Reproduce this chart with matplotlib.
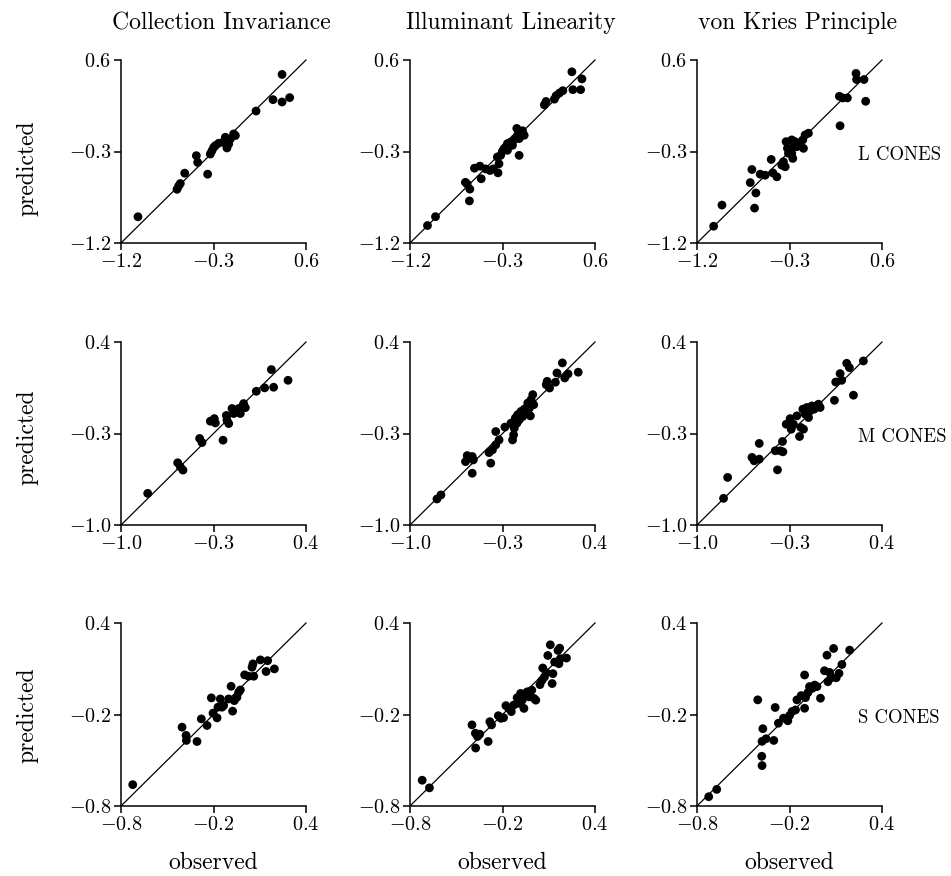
import matplotlib
matplotlib.use("Agg")
import matplotlib.pyplot as plt

plt.rcParams['font.family'] = ['cmr10', 'DejaVu Serif']
plt.rcParams['mathtext.fontset'] = 'cm'
plt.rcParams['axes.unicode_minus'] = False

col_titles = ["Collection Invariance", "Illuminant Linearity", "von Kries Principle"]
row_labels = ["L CONES", "M CONES", "S CONES"]
row_ranges = [(-1.2, 0.6), (-1.0, 0.4), (-0.8, 0.4)]
row_ticks = [["-1.2", "-0.3", "0.6"], ["-1.0", "-0.3", "0.4"], ["-0.8", "-0.2", "0.4"]]

# L cones
ci_L_obs = [-1.035, -0.655, -0.639, -0.623, -0.580, -0.467, -0.454, -0.357, -0.331, -0.315,
            -0.298, -0.282, -0.250, -0.207, -0.175, -0.169, -0.152, -0.136, -0.104, -0.087,
            -0.185, 0.114, 0.279, 0.367, 0.367, 0.441]
ci_L_pred = [-0.942, -0.672, -0.639, -0.615, -0.513, -0.341, -0.407, -0.523, -0.325, -0.292,
             -0.259, -0.242, -0.219, -0.209, -0.193, -0.265, -0.226, -0.176, -0.127, -0.143,
             -0.160, 0.098, 0.210, 0.458, 0.187, 0.230]

il_L_obs = [-1.030, -0.952, -0.661, -0.644, -0.618, -0.622, -0.573, -0.520, -0.507, -0.465,
            -0.422, -0.390, -0.344, -0.334, -0.318, -0.301, -0.285, -0.269, -0.252, -0.236,
            -0.220, -0.203, -0.193, -0.180, -0.161, -0.154, -0.138, -0.138, -0.122, -0.105,
            -0.089, -0.252, -0.350, 0.107, 0.124, 0.205, 0.222, 0.254, 0.287, 0.375,
            0.385, 0.460, 0.473]
il_L_pred = [-1.028, -0.941, -0.603, -0.620, -0.670, -0.786, -0.464, -0.444, -0.568, -0.471,
             -0.487, -0.471, -0.510, -0.421, -0.338, -0.298, -0.272, -0.255, -0.222, -0.239,
             -0.206, -0.239, -0.190, -0.173, -0.073, -0.140, -0.338, -0.173, -0.123, -0.096,
             -0.140, -0.288, -0.354, 0.159, 0.192, 0.215, 0.249, 0.275, 0.298, 0.484,
             0.308, 0.308, 0.414]

vk_L_obs = [-1.038, -0.957, -0.682, -0.666, -0.627, -0.640, -0.585, -0.537, -0.478, -0.462,
            -0.423, -0.375, -0.359, -0.342, -0.333, -0.320, -0.310, -0.294, -0.278, -0.268,
            -0.261, -0.245, -0.229, -0.213, -0.164, -0.171, -0.148, -0.116, -0.278, 0.185,
            0.217, 0.263, 0.192, 0.347, 0.353, 0.425, 0.441]
vk_L_pred = [-1.035, -0.827, -0.606, -0.477, -0.708, -0.857, -0.523, -0.533, -0.378, -0.510,
             -0.549, -0.434, -0.401, -0.450, -0.203, -0.269, -0.318, -0.285, -0.186, -0.368,
             -0.252, -0.203, -0.252, -0.219, -0.269, -0.186, -0.137, -0.120, -0.318, 0.243,
             0.227, 0.227, -0.047, 0.468, 0.408, 0.408, 0.194]

# M cones
ci_M_obs = [-0.798, -0.571, -0.551, -0.531, -0.405, -0.387, -0.324, -0.294, -0.286, -0.228,
            -0.203, -0.198, -0.185, -0.160, -0.147, -0.135, -0.122, -0.109, -0.097, -0.084,
            -0.072, -0.059, 0.024, 0.087, 0.138, 0.155, 0.264]
ci_M_pred = [-0.758, -0.524, -0.555, -0.580, -0.338, -0.369, -0.206, -0.186, -0.219, -0.351,
             -0.162, -0.198, -0.224, -0.109, -0.147, -0.122, -0.135, -0.109, -0.147, -0.096,
             -0.071, -0.102, 0.023, 0.049, 0.189, 0.054, 0.107]

il_M_obs = [-0.796, -0.766, -0.580, -0.567, -0.529, -0.521, -0.529, -0.402, -0.389, -0.376,
            -0.351, -0.351, -0.326, -0.282, -0.236, -0.224, -0.216, -0.211, -0.203, -0.191,
            -0.186, -0.173, -0.160, -0.147, -0.135, -0.122, -0.109, -0.097, -0.084, -0.071,
            -0.089, -0.064, 0.031, 0.038, 0.056, 0.100, 0.112, 0.153, 0.171, 0.196, 0.273]
il_M_pred = [-0.801, -0.770, -0.515, -0.469, -0.476, -0.502, -0.604, -0.446, -0.527, -0.425,
             -0.387, -0.285, -0.349, -0.251, -0.221, -0.349, -0.310, -0.259, -0.182, -0.221,
             -0.157, -0.195, -0.131, -0.170, -0.113, -0.144, -0.067, -0.106, -0.041, -0.003,
             -0.165, -0.080, 0.073, 0.099, 0.048, 0.092, 0.163, 0.240, 0.125, 0.156, 0.169]

vk_M_obs = [-0.799, -0.768, -0.584, -0.567, -0.529, -0.529, -0.408, -0.391, -0.370, -0.350,
            -0.353, -0.325, -0.295, -0.287, -0.270, -0.244, -0.224, -0.214, -0.199, -0.194,
            -0.181, -0.169, -0.156, -0.144, -0.131, -0.114, -0.093, -0.081, -0.068, 0.040,
            0.050, 0.083, 0.095, 0.133, 0.153, 0.184, 0.259]
vk_M_pred = [-0.796, -0.636, -0.483, -0.509, -0.496, -0.376, -0.432, -0.578, -0.432, -0.440,
             -0.361, -0.229, -0.186, -0.267, -0.229, -0.165, -0.323, -0.254, -0.114, -0.267,
             -0.152, -0.101, -0.178, -0.127, -0.089, -0.114, -0.089, -0.076, -0.101, -0.046,
             0.094, 0.158, 0.107, 0.237, 0.204, -0.007, 0.255]

# S cones
ci_S_obs = [-0.724, -0.404, -0.378, -0.376, -0.307, -0.279, -0.242, -0.214, -0.203, -0.177,
            -0.171, -0.156, -0.145, -0.134, -0.102, -0.086, -0.076, -0.065, -0.048, -0.037,
            -0.026, 0.002, 0.028, 0.050, 0.061, 0.056, 0.104, 0.141, 0.151, 0.195]
ci_S_pred = [-0.660, -0.283, -0.337, -0.370, -0.377, -0.229, -0.272, -0.091, -0.191, -0.222,
             -0.152, -0.098, -0.152, -0.141, -0.098, -0.015, -0.178, -0.109, -0.087, -0.054,
             -0.039, 0.060, 0.051, 0.110, 0.051, 0.132, 0.158, 0.082, 0.153, 0.099]

il_S_obs = [-0.721, -0.674, -0.398, -0.376, -0.362, -0.374, -0.348, -0.293, -0.282, -0.271,
            -0.227, -0.210, -0.193, -0.178, -0.160, -0.143, -0.127, -0.105, -0.094, -0.083,
            -0.072, -0.061, -0.050, -0.039, -0.028, -0.010, 0.005, 0.016, 0.043, 0.057,
            0.061, 0.072, 0.083, 0.094, 0.110, 0.127, 0.122, 0.138, 0.160, 0.166, 0.175,
            0.171, 0.215]
il_S_pred = [-0.631, -0.681, -0.268, -0.323, -0.344, -0.420, -0.329, -0.377, -0.247, -0.268,
             -0.208, -0.225, -0.221, -0.142, -0.160, -0.181, -0.138, -0.090, -0.127, -0.062,
             -0.106, -0.160, -0.062, -0.051, -0.084, -0.040, -0.095, -0.106, -0.004, 0.025,
             0.105, 0.046, 0.075, 0.187, 0.257, 0.068, 0.003, 0.144, 0.220, 0.133, 0.166,
             0.235, 0.170]

vk_S_obs = [-0.724, -0.672, -0.406, -0.380, -0.378, -0.378, -0.373, -0.352, -0.302, -0.293,
            -0.272, -0.239, -0.211, -0.200, -0.183, -0.161, -0.152, -0.124, -0.102, -0.096,
            -0.102, -0.081, -0.070, -0.052, -0.037, -0.022, 0.001, 0.027, 0.049, 0.043,
            0.060, 0.071, 0.086, 0.103, 0.121, 0.140, 0.190]
vk_S_pred = [-0.739, -0.691, -0.104, -0.474, -0.535, -0.376, -0.293, -0.359, -0.370, -0.154,
             -0.257, -0.224, -0.241, -0.207, -0.180, -0.170, -0.104, -0.076, -0.159, -0.089,
             0.059, -0.057, -0.017, -0.028, -0.007, -0.017, -0.093, 0.087, 0.015, 0.189,
             0.076, 0.041, 0.233, 0.041, 0.070, 0.128, 0.222]

panels = [
    [(ci_L_obs, ci_L_pred), (il_L_obs, il_L_pred), (vk_L_obs, vk_L_pred)],
    [(ci_M_obs, ci_M_pred), (il_M_obs, il_M_pred), (vk_M_obs, vk_M_pred)],
    [(ci_S_obs, ci_S_pred), (il_S_obs, il_S_pred), (vk_S_obs, vk_S_pred)],
]

W, H = 951, 876
fig = plt.figure(figsize=(W / 100, H / 100), dpi=100)

lefts = [121, 410, 697]
tops = [60, 342, 623]
aw, ah = 185, 183
ylabel_y = [168, 437, 715]

for r in range(3):
    lo, hi = row_ranges[r]
    mid = float(row_ticks[r][1])
    for c in range(3):
        ax = fig.add_axes([lefts[c] / W, 1 - (tops[r] + ah) / H, aw / W, ah / H])
        obs, pred = panels[r][c]
        ax.plot([lo, hi], [lo, hi], color='black', lw=0.9, clip_on=False)
        ax.scatter(obs, pred, s=40, color='black', edgecolors='none', clip_on=False, zorder=3)
        ax.set_xlim(lo, hi)
        ax.set_ylim(lo, hi)
        ticks = [lo, mid, hi]
        labels = ['$' + t + '$' for t in row_ticks[r]]
        ax.set_xticks(ticks)
        ax.set_xticklabels(labels)
        ax.set_yticks(ticks)
        ax.set_yticklabels(labels)
        for s in ['top', 'right']:
            ax.spines[s].set_visible(False)
        for s in ['left', 'bottom']:
            ax.spines[s].set_linewidth(1.1)
        ax.tick_params(direction='out', length=5, width=1.1, labelsize=14.5, pad=2)
        if r == 0:
            fig.text((lefts[c] + aw / 2 + 8) / W, 1 - 29 / H, col_titles[c],
                     ha='center', va='baseline', fontsize=17)
        if r == 2:
            fig.text((lefts[c] + aw / 2) / W, 1 - 869 / H, "observed",
                     ha='center', va='baseline', fontsize=17)
    fig.text(27 / W, 1 - ylabel_y[r] / H, "predicted", rotation=90,
             ha='center', va='center', fontsize=17)
    fig.text(858 / W, 1 - (tops[r] + ah / 2 + 4) / H, row_labels[r],
             ha='left', va='center', fontsize=13.5)

fig.savefig("out.png", dpi=100)
